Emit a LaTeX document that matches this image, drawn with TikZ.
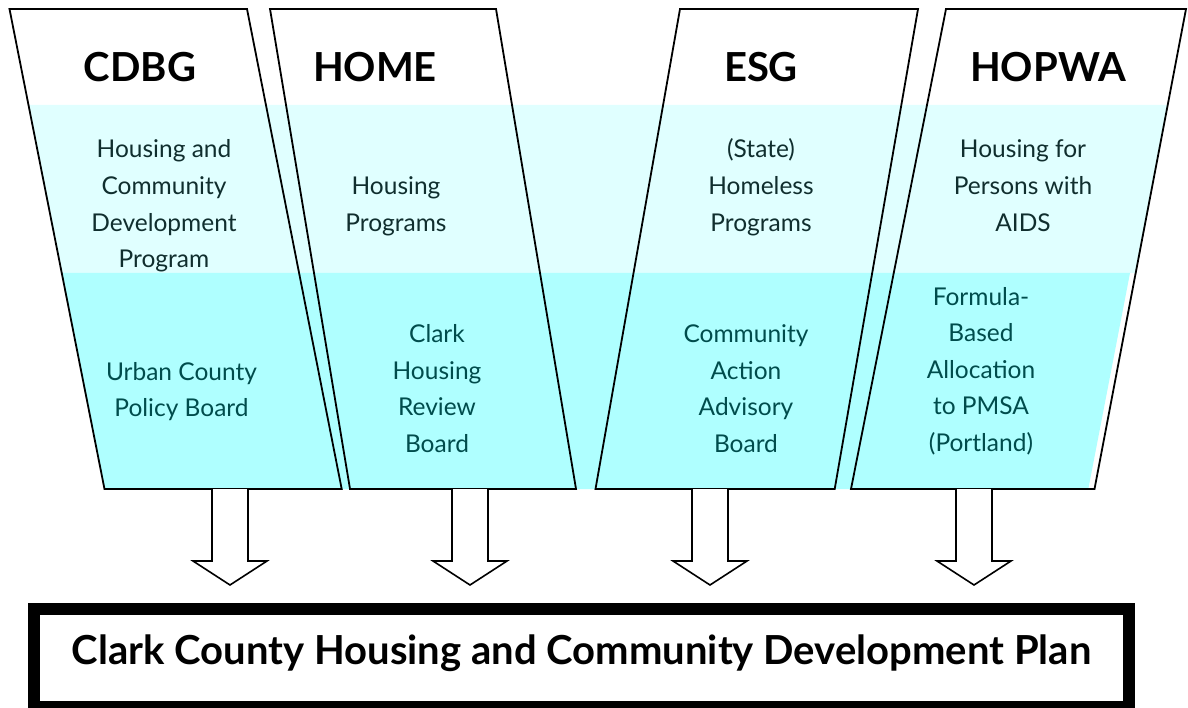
\documentclass[tikz,border=0pt]{standalone}
\usepackage{fontspec}
\setmainfont{Lato}
\usetikzlibrary{calc}
\definecolor{paleband}{HTML}{E0FFFF}
\definecolor{deepband}{HTML}{AFFFFF}
\definecolor{toptext}{HTML}{102E2E}
\definecolor{boardtext}{HTML}{004C4C}
\tikzset{
  funnel/.style={draw=black, line width=1.8pt, line join=miter},
  fundname/.style={font=\fontsize{40}{44}\selectfont\bfseries, anchor=base, inner sep=0pt},
  % multi-line blocks: the base anchor sits on the last line's baseline
  programtext/.style={font=\fontsize{24.5}{36.6}\selectfont, align=center, text=toptext, anchor=base, inner sep=0pt},
  boardtxt/.style={programtext, text=boardtext},
  flowarrow/.style={draw=black, fill=white, line width=1.6pt, line join=miter},
  planbox/.style={draw=black, line width=12pt, minimum width=1095pt, minimum height=98pt, inner sep=0pt},
  plantxt/.style={font=\fontsize{40}{44}\selectfont\bfseries, anchor=base, inner sep=0pt},
}
\begin{document}
\begin{tikzpicture}[x=1pt,y=-1pt]
\useasboundingbox (0,0) rectangle (1188,708);

% coloured bands behind the four funnels
\fill[paleband] (28.5,105) -- (1167.7,105) -- (1135.7,273) -- (61.75,273) -- cycle;
\fill[deepband] (61.75,273) -- (1130,273) -- (1088.3,489) -- (104.5,489) -- cycle;

% funnel outlines
\draw[funnel] (9.5,9) -- (247,9) -- (341.7,489) -- (104.5,489) -- cycle;
\draw[funnel] (270,9) -- (496,9) -- (576,489) -- (350,489) -- cycle;
\draw[funnel] (680,9) -- (918,9) -- (834.7,489) -- (595.5,489) -- cycle;
\draw[funnel] (946,9) -- (1186,9) -- (1094.5,489) -- (851,489) -- cycle;

% fund names
\node[fundname] (cdbg)  at (140,82)  {CDBG};
\node[fundname] (home)  at (375,82)  {HOME};
\node[fundname] (esg)   at (761,82)  {ESG};
\node[fundname] (hopwa) at (1048,82) {HOPWA};

% programs
\node[programtext] (prog1) at (164,267.8)  {Housing and\\Community\\Development\\Program};
\node[programtext] (prog2) at (396,231.2)  {Housing\\Programs};
\node[programtext] (prog3) at (761,231.2)  {(State)\\Homeless\\Programs};
\node[programtext] (prog4) at (1023,231.2) {Housing for\\Persons with\\AIDS};

% decision bodies
\node[boardtxt] (board1) at (181.5,416.6) {Urban County\\Policy Board};
\node[boardtxt] (board2) at (437,452.3)   {Clark\\Housing\\Review\\Board};
\node[boardtxt] (board3) at (746,452.3)   {Community\\Action\\Advisory\\Board};
\node[boardtxt] (board4) at (981,451.4)   {Formula-\\Based\\Allocation\\to PMSA\\(Portland)};

% consolidated plan
\node[planbox] (plan) at (581.5,658) {};
\node[plantxt] (plantext) at (581.5,664) {Clark County Housing and Community Development Plan};

% block arrows from each funnel down to the plan
\coordinate (s1) at (230,489);
\coordinate (s2) at (470,489);
\coordinate (s3) at (710,489);
\coordinate (s4) at (974,489);
\foreach \s in {s1,s2,s3,s4}{
  \draw[flowarrow] ($(\s)+(-18,0)$) -- ($(\s)+(-18,72)$) -- ($(\s)+(-37,72)$)
    -- ($(\s)+(0,96)$) -- ($(\s)+(37,72)$) -- ($(\s)+(18,72)$) -- ($(\s)+(18,0)$);
}
\end{tikzpicture}
\end{document}
